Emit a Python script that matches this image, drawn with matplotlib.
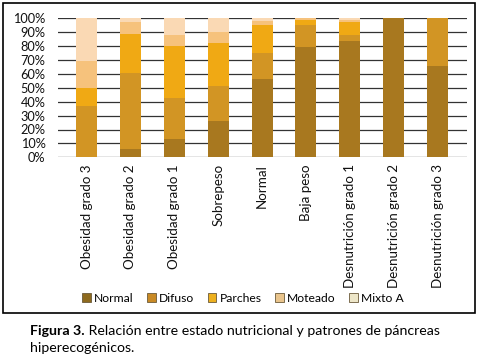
import matplotlib
matplotlib.use("Agg")
import matplotlib.pyplot as plt
from matplotlib.patches import Rectangle, Patch
import numpy as np

categories = ["Obesidad grado 3", "Obesidad grado 2", "Obesidad grado 1", "Sobrepeso",
              "Normal", "Baja peso", "Desnutrición grado 1", "Desnutrición grado 2",
              "Desnutrición grado 3"]
normal = [0, 6, 13, 26, 56, 79, 84, 100, 66]
difuso = [37, 55, 30, 25, 19, 16, 4, 0, 34]
parches = [13, 28, 37, 31, 20, 4, 9, 0, 0]
moteado = [19, 8, 8, 8, 3, 1, 2, 0, 0]
mixto_a = [31, 3, 12, 10, 2, 0, 1, 0, 0]
series_names = ["Normal", "Difuso", "Parches", "Moteado", "Mixto A"]
y_ticks = [0, 10, 20, 30, 40, 50, 60, 70, 80, 90, 100]
caption_bold = "Figura 3."
caption_rest = " Relación entre estado nutricional y patrones de páncreas"
caption_line2 = "hiperecogénicos."

colors = ["#A8781F", "#D29524", "#F0A914", "#F6C27C", "#FAD9B4"]
legend_colors = ["#8E6A1E", "#C98A25", "#EDB01E", "#E9C48C", "#EDE6C8"]

plt.rcParams['font.family'] = ['Lato', 'DejaVu Sans']

fig = plt.figure(figsize=(4.79, 3.59), dpi=100)
ax = fig.add_axes([58/479, 1 - 157.3/359, 409/479, 139/359])

x = np.arange(len(categories))
bottom = np.zeros(len(categories))
for name, vals, c in zip(series_names, [normal, difuso, parches, moteado, mixto_a], colors):
    v = np.array(vals, dtype=float)
    ax.bar(x, v, 0.48, bottom=bottom, color=c, edgecolor='none', zorder=3, label=name)
    bottom += v

ax.set_xlim(-0.65, 8.67)
ax.set_ylim(0, 100)
ax.set_yticks(y_ticks)
ax.set_yticklabels([f"{t}%" for t in y_ticks], fontsize=9.2, color="#111111")
ax.set_xticks(x)
ax.set_xticklabels(categories, rotation=90, fontsize=9.6, color="#111111")
ax.tick_params(axis='y', length=0, pad=9)
ax.tick_params(axis='x', length=0, pad=5)
ax.yaxis.grid(True, color="#333333", linewidth=0.9, zorder=0)
ax.set_axisbelow(True)
for s in ax.spines.values():
    s.set_visible(False)

leg_handles = [Patch(facecolor=c, edgecolor="#6b5a3a", linewidth=0.6) for c in legend_colors]
fig.legend(leg_handles, series_names, loc='center', bbox_to_anchor=(243/479, 1 - 298/359),
           ncol=5, frameon=False, fontsize=8.7, handlelength=0.7, handleheight=0.7,
           handletextpad=0.3, columnspacing=1.1)

fig.patches.append(Rectangle((3/479, 1 - 313/359), 472/479, 310/359, transform=fig.transFigure,
                             fill=False, edgecolor='black', linewidth=1.2))

t1 = fig.text(30/479, 1 - 331/359, caption_bold, fontsize=10.2, fontweight='bold', va='center')
fig.canvas.draw()
bb = t1.get_window_extent()
fig.text(bb.x1 / fig.bbox.width, 1 - 331/359, caption_rest, fontsize=10.2, va='center')
fig.text(30/479, 1 - 348/359, caption_line2, fontsize=10.2, va='center')

fig.savefig("out.png", dpi=100)
